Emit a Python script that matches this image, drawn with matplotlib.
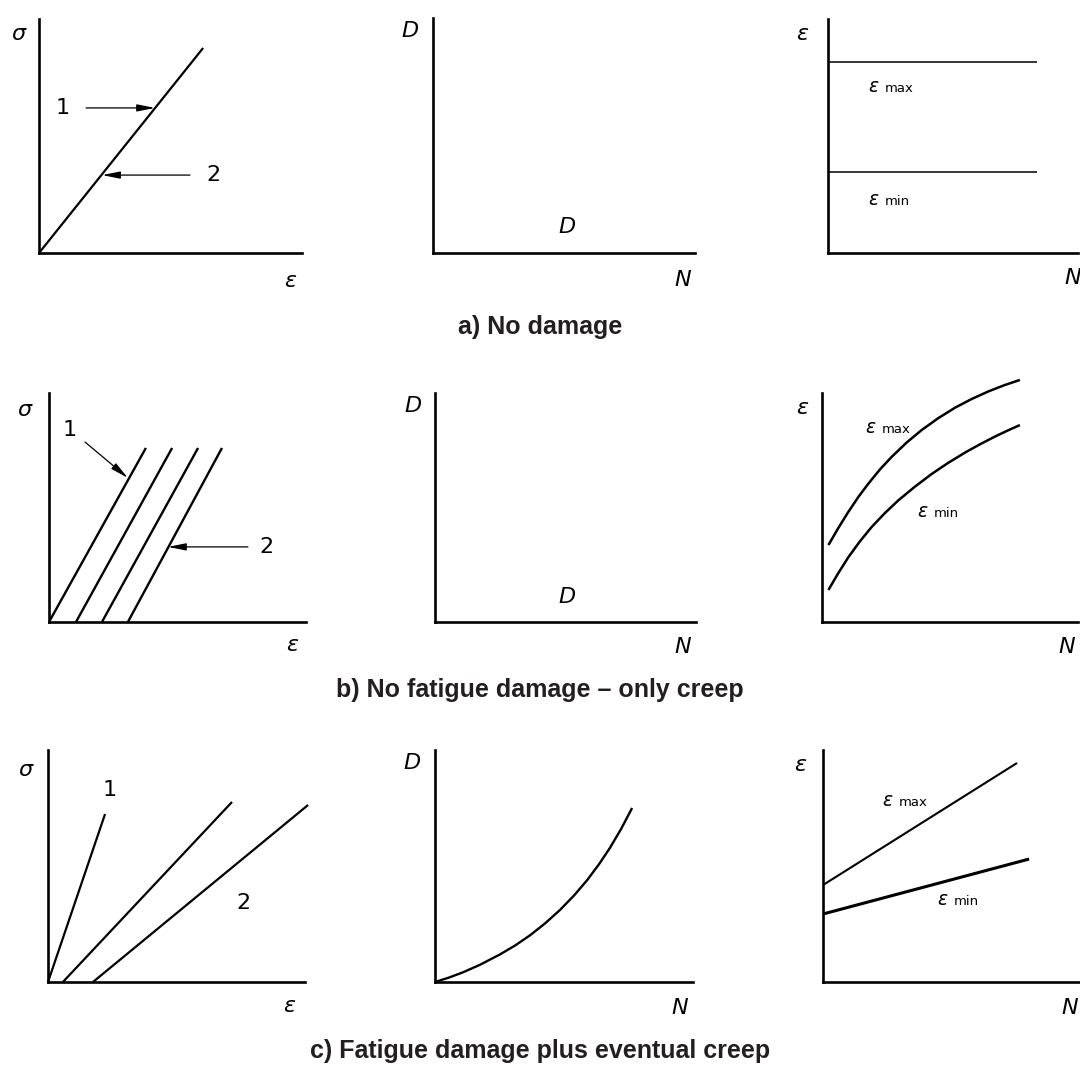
import matplotlib
matplotlib.use("Agg")
import matplotlib.pyplot as plt

# ---------------- data (schematic units, 0..10 on each axis) ----------------
# a) No damage
a_se_x = [0.0, 6.24]
a_se_y = [0.0, 8.76]
a_eps_max = 8.16
a_eps_min = 3.46
a_eps_end = 8.36

# b) No fatigue damage - only creep
b_se_start_x = [0.0, 1.05, 2.06, 3.07]
b_se_end_x = [3.77, 4.79, 5.80, 6.73]
b_se_top = 7.60
b_emax_x = [0.25, 0.64, 1.03, 1.42, 1.81, 2.27, 2.72, 3.31, 3.89, 4.54, 5.20,
            5.85, 6.50, 7.12, 7.73]
b_emax_y = [3.36, 4.11, 4.81, 5.46, 6.04, 6.67, 7.21, 7.84, 8.38, 8.90, 9.36,
            9.74, 10.07, 10.34, 10.57]
b_emin_x = [0.25, 0.64, 1.03, 1.48, 1.94, 2.46, 2.98, 3.63, 4.28, 4.93, 5.59,
            6.17, 6.76, 7.25, 7.73]
b_emin_y = [1.40, 2.14, 2.83, 3.52, 4.15, 4.76, 5.31, 5.91, 6.46, 6.95, 7.40,
            7.76, 8.10, 8.36, 8.60]

# c) Fatigue damage plus eventual creep
c_se_start_x = [0.0, 0.58, 1.75]
c_se_end_x = [2.22, 7.16, 10.12]
c_se_end_y = [7.24, 7.76, 7.63]
c_D_x = [0.0, 0.54, 1.09, 1.74, 2.52, 3.10, 3.68, 4.26, 4.84, 5.39, 5.89,
         6.36, 6.78, 7.21, 7.64]
c_D_y = [0.0, 0.19, 0.42, 0.74, 1.19, 1.57, 2.01, 2.52, 3.10, 3.73, 4.38,
         5.08, 5.78, 6.59, 7.50]
c_emax_x = [0.0, 7.55]
c_emax_y = [4.18, 9.44]
c_emin_x = [0.0, 8.02]
c_emin_y = [2.93, 5.30]

titles = ["a) No damage", "b) No fatigue damage \u2013 only creep",
          "c) Fatigue damage plus eventual creep"]

# ---------------- figure ----------------
W, H = 1080, 1086
fig = plt.figure(figsize=(W / 100, H / 100), dpi=100)
fig.patch.set_facecolor("white")

LBL = dict(family="DejaVu Sans", style="italic", fontsize=16, color="black")
NUM = dict(family="DejaVu Sans", fontsize=16, color="black")
EPS = dict(family="DejaVu Sans", style="italic", fontsize=13.5, color="black")
SUB = dict(family="DejaVu Sans", fontsize=9.5, color="black")


def make_ax(L, R, B, T):
    ax = fig.add_axes([L / W, 1 - B / H, (R - L) / W, (B - T) / H])
    ax.set_xlim(0, 10)
    ax.set_ylim(0, 10)
    for s in ["top", "right"]:
        ax.spines[s].set_visible(False)
    for s in ["left", "bottom"]:
        ax.spines[s].set_linewidth(1.9)
        ax.spines[s].set_capstyle("projecting")
    ax.set_xticks([])
    ax.set_yticks([])
    ax.patch.set_alpha(0)
    return ax


def axlabels(ax, ylab, ypos, xlab, xpos):
    ax.text(ypos[0], ypos[1], ylab, transform=ax.transAxes, ha="center",
            va="center", clip_on=False, **LBL)
    ax.text(xpos[0], xpos[1], xlab, transform=ax.transAxes, ha="center",
            va="center", clip_on=False, **LBL)


def epslabel(ax, x, y, sub):
    ax.text(x, y, "\u03b5", transform=ax.transAxes, ha="center", va="baseline",
            clip_on=False, **EPS)
    ax.text(x + 0.045, y, sub, transform=ax.transAxes, ha="left", va="baseline",
            clip_on=False, **SUB)


def arrow(ax, start, end):
    ax.annotate("", xy=end, xytext=start,
                arrowprops=dict(arrowstyle="-|>,head_length=0.9,head_width=0.18",
                                lw=0.9, color="black", shrinkA=0, shrinkB=0,
                                mutation_scale=12))


CURVE = dict(color="black", solid_joinstyle="round", solid_capstyle="butt")

# ---- row a ----
ax = make_ax(39, 302, 253, 19)
ax.plot(a_se_x, a_se_y, lw=1.6, **CURVE)
arrow(ax, (1.79, 6.20), (4.41, 6.20))
arrow(ax, (5.74, 3.33), (2.40, 3.33))
ax.text(0.88, 6.20, "1", ha="center", va="center", **NUM)
ax.text(6.62, 3.33, "2", ha="center", va="center", **NUM)
axlabels(ax, "\u03c3", (-0.080, 0.935), "\u03b5", (0.954, -0.118))

ax = make_ax(433, 695, 253, 18)
axlabels(ax, "D", (-0.088, 0.945), "N", (0.954, -0.115))
ax.text(0.511, 0.111, "D", transform=ax.transAxes, ha="center", va="center", **LBL)

ax = make_ax(828, 1078, 253, 19)
ax.plot([0, a_eps_end], [a_eps_max, a_eps_max], lw=1.1, **CURVE)
ax.plot([0, a_eps_end], [a_eps_min, a_eps_min], lw=1.1, **CURVE)
axlabels(ax, "\u03b5", (-0.104, 0.935), "N", (0.98, -0.107))
epslabel(ax, 0.18, 0.69, "max")
epslabel(ax, 0.18, 0.205, "min")

# ---- row b ----
ax = make_ax(49, 306, 622, 393)
for x0, x1 in zip(b_se_start_x, b_se_end_x):
    ax.plot([x0, x1], [0, b_se_top], lw=1.7, **CURVE)
arrow(ax, (1.40, 7.86), (3.07, 6.29))
arrow(ax, (7.74, 3.28), (4.63, 3.28))
ax.text(0.82, 8.38, "1", ha="center", va="center", **NUM)
ax.text(8.48, 3.28, "2", ha="center", va="center", **NUM)
axlabels(ax, "\u03c3", (-0.097, 0.926), "\u03b5", (0.946, -0.10))

ax = make_ax(435, 696, 622, 393)
axlabels(ax, "D", (-0.084, 0.945), "N", (0.95, -0.109))
ax.text(0.506, 0.109, "D", transform=ax.transAxes, ha="center", va="center", **LBL)

ax = make_ax(822, 1078, 622, 393)
ax.plot(b_emax_x, b_emax_y, lw=1.8, clip_on=False, **CURVE)
ax.plot(b_emin_x, b_emin_y, lw=1.8, clip_on=False, **CURVE)
axlabels(ax, "\u03b5", (-0.078, 0.934), "N", (0.957, -0.109))
epslabel(ax, 0.188, 0.825, "max")
epslabel(ax, 0.39, 0.46, "min")

# ---- row c ----
ax = make_ax(48, 305, 982, 750)
for x0, x1, y1 in zip(c_se_start_x, c_se_end_x, c_se_end_y):
    ax.plot([x0, x1], [0, y1], lw=1.6, clip_on=False, **CURVE)
ax.text(2.41, 8.28, "1", ha="center", va="center", **NUM)
ax.text(7.59, 3.41, "2", ha="center", va="center", **NUM)
axlabels(ax, "\u03c3", (-0.089, 0.914), "\u03b5", (0.94, -0.105))

ax = make_ax(435, 693, 982, 750)
ax.plot(c_D_x, c_D_y, lw=1.7, **CURVE)
axlabels(ax, "D", (-0.089, 0.945), "N", (0.95, -0.112))

ax = make_ax(823, 1080, 982, 750)
ax.plot(c_emax_x, c_emax_y, lw=1.5, **CURVE)
ax.plot(c_emin_x, c_emin_y, lw=2.2, **CURVE)
axlabels(ax, "\u03b5", (-0.089, 0.935), "N", (0.96, -0.112))
epslabel(ax, 0.25, 0.76, "max")
epslabel(ax, 0.465, 0.33, "min")

# ---- titles ----
TITLE = dict(family="Liberation Sans", fontweight="bold", fontsize=18,
             color="#231f20", ha="center", va="center")
fig.text(0.5, 1 - 327 / H, titles[0], **TITLE)
fig.text(0.5, 1 - 690 / H, titles[1], **TITLE)
fig.text(0.5, 1 - 1051 / H, titles[2], **TITLE)

fig.savefig("out.png", dpi=100, facecolor="white")
